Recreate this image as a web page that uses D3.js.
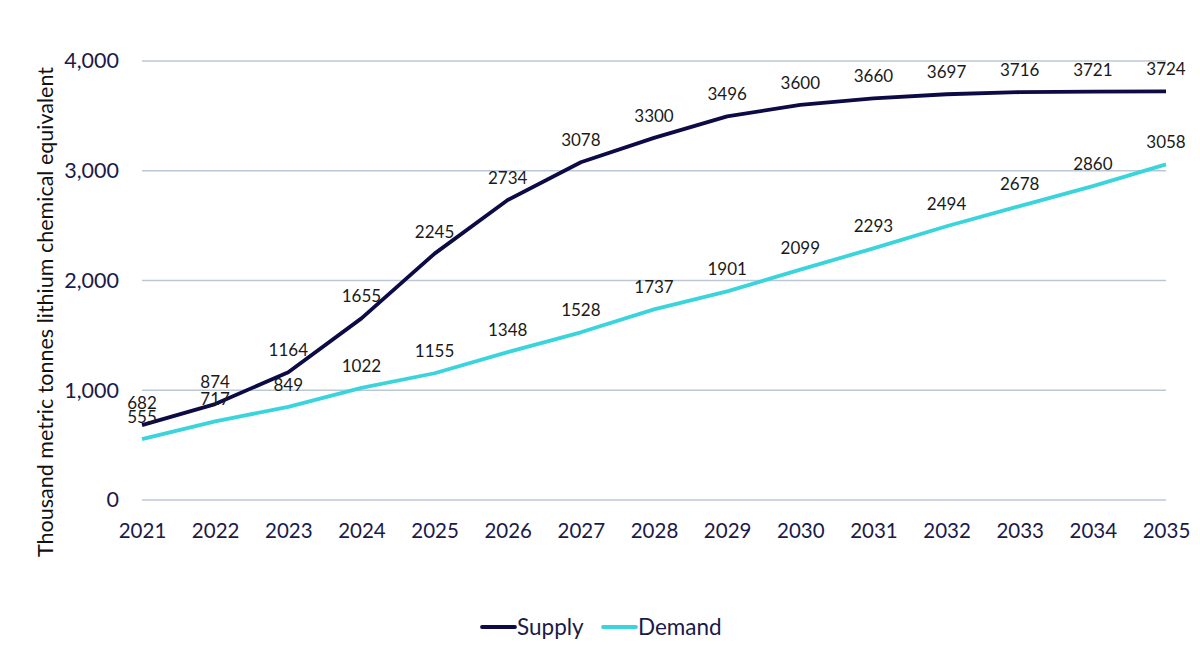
<!DOCTYPE html>
<html lang="en">
<head>
<meta charset="UTF-8">
<title>Lithium supply and demand</title>
<style>
  body { margin: 0; background: #fff; }
  text { font-family: Lato, "Open Sans", sans-serif; }
</style>
</head>
<body>
<svg width="1200" height="656" id="svg"></svg>
<script src="https://d3js.org/d3.v7.min.js"></script>
<script>
const years = [2021, 2022, 2023, 2024, 2025, 2026, 2027, 2028, 2029, 2030, 2031, 2032, 2033, 2034, 2035]
const supply = [682, 874, 1164, 1655, 2245, 2734, 3078, 3300, 3496, 3600, 3660, 3697, 3716, 3721, 3724]
const demand = [555, 717, 849, 1022, 1155, 1348, 1528, 1737, 1901, 2099, 2293, 2494, 2678, 2860, 3058]
const yTicks = [0, 1000, 2000, 3000, 4000]
const seriesNames = ["Supply", "Demand"]

const colors = { Supply: "#0d0b45", Demand: "#3ad4dc" }
const svg = d3.select("svg#svg")

const x = d3.scalePoint().domain(years).range([142, 1166])
const y = d3.scaleLinear().domain([0, 4000]).range([500, 61])

// gridlines
svg.append("g").selectAll("line").data(yTicks).join("line")
  .attr("x1", 142).attr("x2", 1166)
  .attr("y1", d => y(d)).attr("y2", d => y(d))
  .attr("stroke", "#bcc7d6").attr("stroke-width", 1.5)

// y axis
const yAxis = d3.axisLeft(y).tickValues(yTicks).tickFormat(d3.format(",")).tickSize(0).tickPadding(0)
svg.append("g").attr("transform", "translate(119,0)").call(yAxis)
  .call(g => g.select(".domain").remove())
  .call(g => g.selectAll("text").attr("font-size", 21.5).attr("fill", "#1b1a4a").attr("font-family", "Lato, sans-serif"))

// x axis
const xAxis = d3.axisBottom(x).tickSize(0).tickPadding(0)
svg.append("g").attr("transform", "translate(0,523)").call(xAxis)
  .call(g => g.select(".domain").remove())
  .call(g => g.selectAll("text").attr("font-size", 20.5).attr("fill", "#1b1a4a").attr("font-family", "Lato, sans-serif"))

// y title
svg.append("text")
  .attr("transform", "translate(53,312) rotate(-90)")
  .attr("text-anchor", "middle")
  .attr("font-size", 21.5)
  .attr("fill", "#111")
  .text("Thousand metric tonnes lithium chemical equivalent")

const line = d3.line().x((d, i) => x(years[i])).y(d => y(d))
const series = [
  { name: "Supply", values: supply },
  { name: "Demand", values: demand }
]

// draw demand first so supply sits on top
series.slice().reverse().forEach(s => {
  svg.append("path").datum(s.values)
    .attr("d", line)
    .attr("fill", "none")
    .attr("stroke", colors[s.name])
    .attr("stroke-width", 3.8)
    .attr("stroke-linejoin", "round")
})

series.forEach(s => {
  svg.append("g").selectAll("text").data(s.values).join("text")
    .attr("x", (d, i) => x(years[i]))
    .attr("y", d => y(d) - 16)
    .attr("text-anchor", "middle")
    .attr("font-size", 17)
    .attr("font-family", "'Open Sans', sans-serif")
    .attr("fill", "#1a1a1a")
    .text(d => d)
})

// legend
const legendX = [482, 603]
const lg = svg.append("g")
seriesNames.forEach((n, i) => {
  lg.append("line")
    .attr("x1", legendX[i]).attr("x2", legendX[i] + 33)
    .attr("y1", 627).attr("y2", 627)
    .attr("stroke", colors[n]).attr("stroke-width", 3.8)
    .attr("stroke-linecap", "round")
  lg.append("text")
    .attr("x", legendX[i] + 35).attr("y", 635)
    .attr("font-size", 22.5)
    .attr("fill", "#1b1a4a")
    .text(n)
})
</script>
</body>
</html>
